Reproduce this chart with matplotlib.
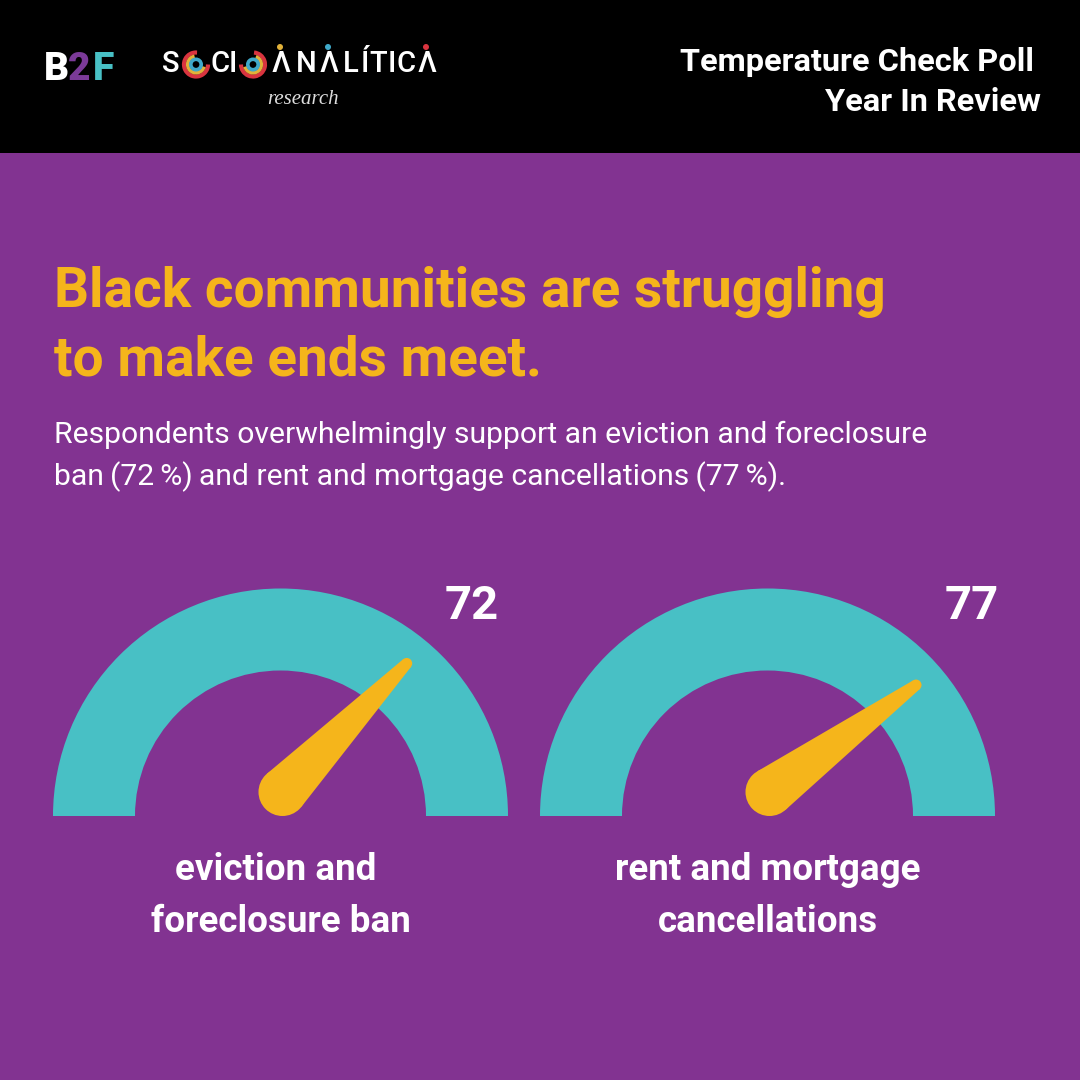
import numpy as np
import matplotlib
matplotlib.use("Agg")
import matplotlib.pyplot as plt
from matplotlib.patches import Wedge, Polygon, Circle, Rectangle, Arc

values = [72, 77]
labels = ["eviction and \nforeclosure ban", "rent and mortgage\ncancellations"]
title = ["Black communities are struggling", "to make ends meet."]
subtitle = ["Respondents overwhelmingly support an eviction and foreclosure",
            "ban\u2009(72\u2009%)\u2009and rent and mortgage cancellations\u2009(77\u2009%)."]
header = ["Temperature Check Poll", "Year In Review"]
gauge_cx = [280.5, 767.5]
value_x = [472, 972]

PURPLE = "#823391"; TEAL = "#48C0C5"; YELLOW = "#F5B51B"
RED = "#D9343F"; GOLD = "#E2B23A"; BLUE = "#3FA9C9"
plt.rcParams['font.family'] = ['Roboto', 'DejaVu Sans']

fig = plt.figure(figsize=(10.8, 10.8), dpi=100, facecolor=PURPLE)
ax = fig.add_axes([0, 0, 1, 1])
ax.set_xlim(0, 1080); ax.set_ylim(1080, 0); ax.axis("off")
ax.add_patch(Rectangle((0, 0), 1080, 153, color="black", lw=0))

# header text
ax.text(1034, 62, header[0], color="white", fontsize=23.4, fontweight="bold", ha="right", va="center")
ax.text(1041, 102, header[1], color="white", fontsize=23.4, fontweight="bold", ha="right", va="center")

# B2F logo
for ch, x, c in [("B", 44, "white"), ("2", 68, "#7B3A98"), ("F", 93, TEAL)]:
    ax.text(x, 69, ch, color=c, fontsize=28, fontweight="black", ha="left", va="center")

# Socioanalitica logo
def ring(x, t1, t2, y=64.5):
    ax.add_patch(Arc((x, y), 24, 24, theta1=t1, theta2=t2, color=RED, lw=3))
    ax.add_patch(Arc((x, y), 16.5, 16.5, theta1=t1 + 15, theta2=t2 - 15, color=GOLD, lw=2.6))
    ax.add_patch(Circle((x, y), 5.2, fill=False, ec=BLUE, lw=2.6))

word = ["S", None, "C", "I", None, "\u039b", "N", "\u039b", "L", "\u00cd", "T", "I", "C", "\u039b"]
xs = [171, 196, 220, 233, 253, 281, 306, 329, 351, 365, 378, 392, 406, 427]
spans = {1: (0, 275), 4: (-85, 180)}
dots = {5: GOLD, 7: BLUE, 13: RED}
for i, (ch, x) in enumerate(zip(word, xs)):
    if ch is None:
        ring(x, *spans[i])
    else:
        ax.text(x, 64.5, ch, color="white", fontsize=21, fontweight="medium", ha="center", va="center")
    if i in dots:
        ax.add_patch(Circle((x - 1, 47), 3, color=dots[i], lw=0))
ax.text(303, 99, "research", color="#DDDDDD", fontsize=15, style="italic", family="Liberation Serif", ha="center", va="center")

# title
for i, line in enumerate(title):
    ax.text(54, 292 + i * 69, line, color=YELLOW, fontsize=39.6, fontweight="bold", ha="left", va="center")
for i, line in enumerate(subtitle):
    ax.text(54, 435 + i * 42, line, color="white", fontsize=21.7, ha="left", va="center")

# gauges
CY = 816.0; R_OUT = 227.5; R_IN = 145.5; TIP_R = 198.0; HUB_R = 24.0; HUB_Y = 792.0; TIP_W = 5.5

def needle(cx, value):
    a = np.pi * (1 - value / 100)
    tip = np.array([cx + TIP_R * np.cos(a), CY - TIP_R * np.sin(a)])
    hub = np.array([cx + 2, HUB_Y])
    d = tip - hub; L = np.hypot(*d); u = d / L
    n = np.array([-u[1], u[0]])
    s = (HUB_R - TIP_W) / L
    c = np.sqrt(1 - s * s)
    n1 = c * n + s * u; n2 = -c * n + s * u
    pts = [hub + HUB_R * n1, tip + TIP_W * n1, tip + TIP_W * n2, hub + HUB_R * n2]
    ax.add_patch(Polygon(pts, closed=True, color=YELLOW, lw=0, zorder=3))
    ax.add_patch(Circle(hub, HUB_R, color=YELLOW, lw=0, zorder=3))
    ax.add_patch(Circle(tip, TIP_W, color=YELLOW, lw=0, zorder=3))

for cx, vx, v, lab in zip(gauge_cx, value_x, values, labels):
    ax.add_patch(Wedge((cx, CY), R_OUT, 180, 360, width=R_OUT - R_IN, color=TEAL, lw=0, zorder=2))
    needle(cx, v)
    ax.text(vx, 606, str(v), color="white", fontsize=34, fontweight="bold", ha="center", va="center")
    for i, line in enumerate(lab.split("\n")):
        ax.text(cx, 870 + i * 52, line, color="white", fontsize=26.5, fontweight="bold", ha="center", va="center")

fig.savefig("out.png", dpi=100, facecolor=PURPLE)
